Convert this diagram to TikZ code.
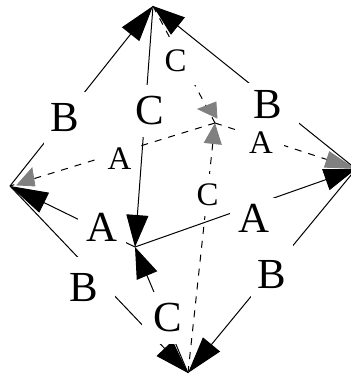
\documentclass[tikz,border=0pt]{standalone}
\usepackage{fontspec}
\setmainfont{Liberation Serif}
\usetikzlibrary{arrows.meta}
\tikzset{
  solidedge/.style={-{Triangle[length=#1,width=22bp]},line width=1bp,draw=black},
  dashedge/.style={line width=1bp,draw=black,dash pattern=on 7bp off 7bp},
  grayedge/.style n args={2}{dashedge,-{Triangle[length=#1,width=#2,color=gray]}},
  grayhead/.style={fill=gray,draw=gray,line width=0.8bp},
  biglabel/.style={fill=white,inner sep=0pt,font=\fontsize{43}{45}\selectfont},
  smalllabel/.style={fill=white,inner sep=0pt,font=\fontsize{33}{35}\selectfont}
}
\begin{document}
\begin{tikzpicture}[x=1bp,y=-1bp]
  \useasboundingbox (0,0) rectangle (351,374);
  \coordinate (vt) at (153,6);
  \coordinate (vl) at (10,186);
  \coordinate (vr) at (356,169);
  \coordinate (vb) at (188,373);
  \coordinate (vf) at (135,247);
  \coordinate (vk) at (215,123);
  \draw[dashedge] (vk) -- (vl);
  \draw[grayedge={31bp}{17bp}] (vk) -- (vr);
  \draw[dashedge] (vt) -- (vk);
  \draw[grayedge={21bp}{18bp}] (vb) -- (vk);
  \filldraw[grayhead] (32,168) -- (17,185) -- (35,186) -- cycle;
  \filldraw[grayhead] (198,109) -- (216,102) -- (217,118) -- cycle;
  \node[smalllabel,minimum width=41bp,minimum height=48bp] (lc1) at (175.5,61) {C};
  \node[smalllabel,minimum width=36bp,minimum height=30bp] (la1) at (119.5,159) {A};
  \node[smalllabel,minimum width=46bp,minimum height=28bp] (la2) at (261,142.5) {A};
  \node[smalllabel,minimum width=24bp,minimum height=42bp] (lc2) at (207.5,195) {C};
  \draw[solidedge=36bp] (vl) -- (vt);
  \draw[solidedge=32bp] (vr) -- (vt);
  \draw[solidedge=32bp] (vt) -- (vf);
  \draw[solidedge=38bp] (vf) -- (vl);
  \draw[solidedge=32bp] (vf) -- (vr);
  \draw[solidedge=31bp] (vb) -- (vf);
  \draw[solidedge=34bp] (vl) -- (vb);
  \draw[solidedge=37bp] (vr) -- (vb);
  \node[biglabel,minimum width=42bp,minimum height=52bp] (lb1) at (65,118) {B};
  \node[biglabel,minimum width=36bp,minimum height=52bp] (lc3) at (150,111) {C};
  \node[biglabel,minimum width=62bp,minimum height=44bp] (lb2) at (268,105) {B};
  \node[biglabel,minimum width=48bp,minimum height=40bp] (la3) at (102,227) {A};
  \node[biglabel,minimum width=48bp,minimum height=40bp] (la4) at (254,218) {A};
  \node[biglabel,minimum width=62bp,minimum height=62bp] (lb3) at (84,288) {B};
  \node[biglabel,minimum width=42bp,minimum height=76bp] (lb4) at (271.5,274.5) {B};
  \node[biglabel,minimum width=46bp,minimum height=52bp] (lc4) at (165,318) {\hspace*{6bp}C};
\end{tikzpicture}
\end{document}
